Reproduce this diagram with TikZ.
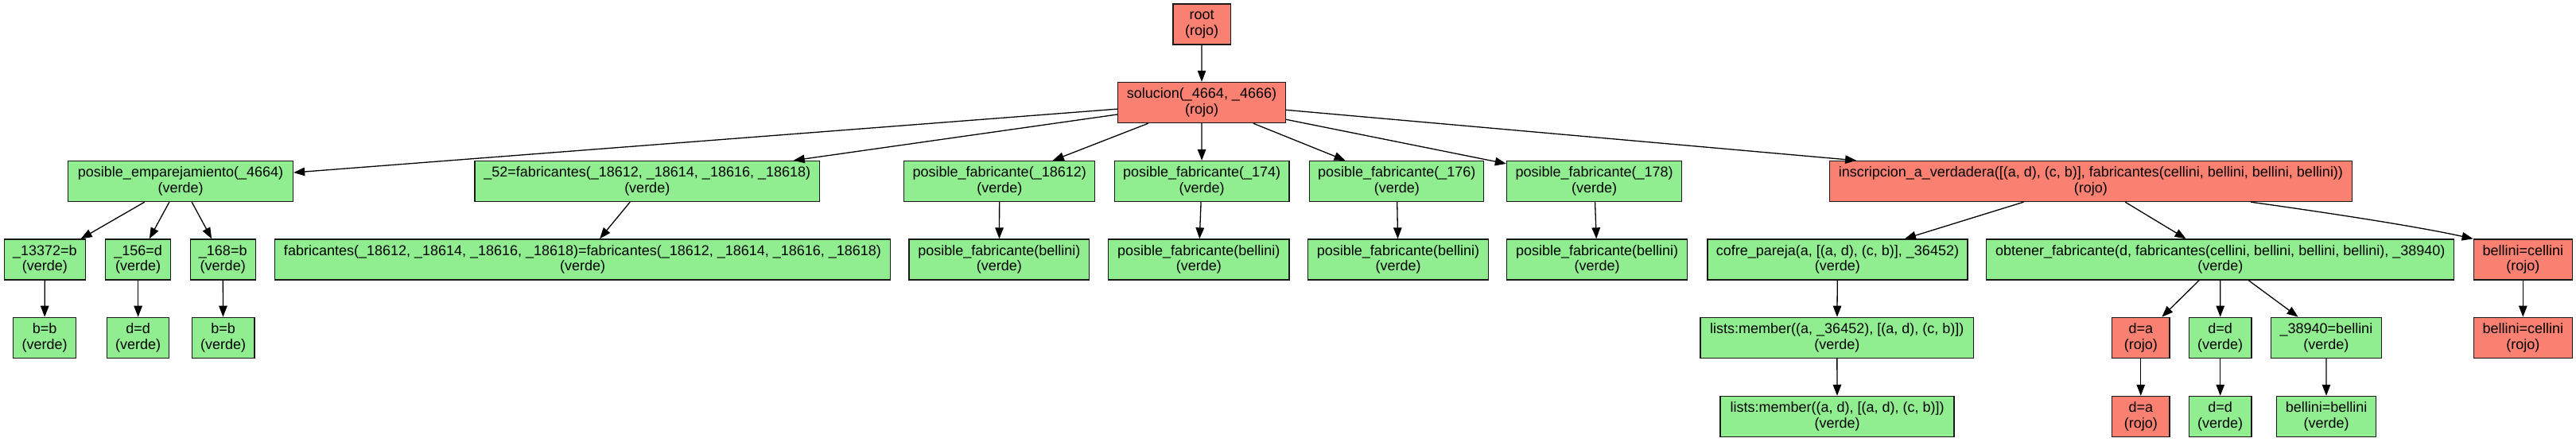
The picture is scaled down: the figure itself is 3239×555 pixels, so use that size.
\documentclass[tikz,border=0pt]{standalone}
\usepackage{fontspec}
\setmainfont{Liberation Sans}
\usetikzlibrary{arrows.meta,calc}
\definecolor{rojo}{HTML}{FA8072}
\definecolor{verde}{HTML}{90EE90}
\begin{document}
\begin{tikzpicture}[x=1pt,y=-1pt,
  box/.style={draw=black!90, line width=1.3pt, inner sep=0pt, minimum height=51pt, align=center,
    font=\fontsize{18}{19.5}\selectfont},
  rn/.style={box, fill=rojo},
  gn/.style={box, fill=verde},
  edge/.style={line width=1.3pt, black, -{Triangle[length=14pt,width=10.5pt]}}]
\fill[white] (0,0) rectangle (3239,555);
\useasboundingbox (0,0) rectangle (3239,555);
% row 0
\node[rn, minimum width=72.2pt] (root) at (1511.1,30.5) {root\\(rojo)};
% row 1
\node[rn, minimum width=211pt] (sol) at (1511,129) {solucion(\_4664, \_4666)\\(rojo)};
% row 2
\node[gn, minimum width=282.9pt] (pe) at (227.05,228) {posible\_emparejamiento(\_4664)\\(verde)};
\node[gn, minimum width=433.5pt] (f52) at (813.75,228) {\_52=fabricantes(\_18612, \_18614, \_18616, \_18618)\\(verde)};
\node[gn, minimum width=239.9pt] (pf1) at (1256.75,228) {posible\_fabricante(\_18612)\\(verde)};
\node[gn, minimum width=219.6pt] (pf2) at (1511.1,228) {posible\_fabricante(\_174)\\(verde)};
\node[gn, minimum width=218.9pt] (pf3) at (1756.25,228) {posible\_fabricante(\_176)\\(verde)};
\node[gn, minimum width=220.2pt] (pf4) at (2004.6,228) {posible\_fabricante(\_178)\\(verde)};
\node[rn, minimum width=656.7pt] (ins) at (2628.95,228) {inscripcion\_a\_verdadera([(a, d), (c, b)], fabricantes(cellini, bellini, bellini, bellini))\\(rojo)};
% row 3
\node[gn, minimum width=101.7pt] (a13372) at (56.45,326.5) {\_13372=b\\(verde)};
\node[gn, minimum width=82.1pt] (a156) at (173.65,326.5) {\_156=d\\(verde)};
\node[gn, minimum width=82.1pt] (a168) at (280.25,326.5) {\_168=b\\(verde)};
\node[gn, minimum width=773.5pt] (ff) at (732.55,326.5) {fabricantes(\_18612, \_18614, \_18616, \_18618)=fabricantes(\_18612, \_18614, \_18616, \_18618)\\(verde)};
\node[gn, minimum width=226.6pt] (pb1) at (1256.4,326.5) {posible\_fabricante(bellini)\\(verde)};
\node[gn, minimum width=227.3pt] (pb2) at (1507.25,326.5) {posible\_fabricante(bellini)\\(verde)};
\node[gn, minimum width=226.6pt] (pb3) at (1758,326.5) {posible\_fabricante(bellini)\\(verde)};
\node[gn, minimum width=227.3pt] (pb4) at (2008.15,326.5) {posible\_fabricante(bellini)\\(verde)};
\node[gn, minimum width=326.9pt] (cofre) at (2310.45,326.5) {cofre\_pareja(a, [(a, d), (c, b)], \_36452)\\(verde)};
\node[gn, minimum width=587.9pt] (obt) at (2791.75,326.5) {obtener\_fabricante(d, fabricantes(cellini, bellini, bellini, bellini), \_38940)\\(verde)};
\node[rn, minimum width=124.2pt] (bc1) at (3172.3,326.5) {bellini=cellini\\(rojo)};
% row 4
\node[gn, minimum width=78.6pt] (bb1) at (56.1,424.8) {b=b\\(verde)};
\node[gn, minimum width=77.9pt] (dd1) at (173.65,424.8) {d=d\\(verde)};
\node[gn, minimum width=78.6pt] (bb2) at (280.6,424.8) {b=b\\(verde)};
\node[gn, minimum width=343.7pt] (lm1) at (2309.75,424.8) {lists:member((a, \_36452), [(a, d), (c, b)])\\(verde)};
\node[rn, minimum width=72.3pt] (da1) at (2691.75,424.8) {d=a\\(rojo)};
\node[gn, minimum width=78.6pt] (dd2) at (2791.7,424.8) {d=d\\(verde)};
\node[gn, minimum width=138.9pt] (b389) at (2924.95,424.8) {\_38940=bellini\\(verde)};
\node[rn, minimum width=124.2pt] (bc2) at (3172.3,424.8) {bellini=cellini\\(rojo)};
% row 5
\node[gn, minimum width=293.9pt] (lm2) at (2310.05,523.9) {lists:member((a, d), [(a, d), (c, b)])\\(verde)};
\node[rn, minimum width=72.3pt] (da2) at (2691.75,523.9) {d=a\\(rojo)};
\node[gn, minimum width=78.6pt] (dd3) at (2791.7,523.9) {d=d\\(verde)};
\node[gn, minimum width=124.8pt] (bbel) at (2925,523.9) {bellini=bellini\\(verde)};
% edges
\draw[edge] (root) -- (sol);
\foreach \t in {pe,f52,pf1,pf2,pf3,pf4,ins} \draw[edge] (sol) -- (\t);
\foreach \t in {a13372,a156,a168} \draw[edge] (pe) -- (\t);
\draw[edge] (f52) -- (ff);
\draw[edge] (pf1) -- (pb1);
\draw[edge] (pf2) -- (pb2);
\draw[edge] (pf3) -- (pb3);
\draw[edge] (pf4) -- (pb4);
\draw[edge] (ins) -- (cofre);
\draw[edge] (ins) -- (obt);
\draw[edge] ([xshift=201pt]ins.south) .. controls (2930,268) and (3040,285) .. (bc1.north west);
\draw[edge] (a13372) -- (bb1);
\draw[edge] (a156) -- (dd1);
\draw[edge] (a168) -- (bb2);
\draw[edge] (cofre) -- (lm1);
\foreach \t in {da1,dd2,b389} \draw[edge] (obt) -- (\t);
\draw[edge] (bc1) -- (bc2);
\draw[edge] (lm1) -- (lm2);
\draw[edge] (da1) -- (da2);
\draw[edge] (dd2) -- (dd3);
\draw[edge] (b389) -- (bbel);
\end{tikzpicture}
\end{document}
